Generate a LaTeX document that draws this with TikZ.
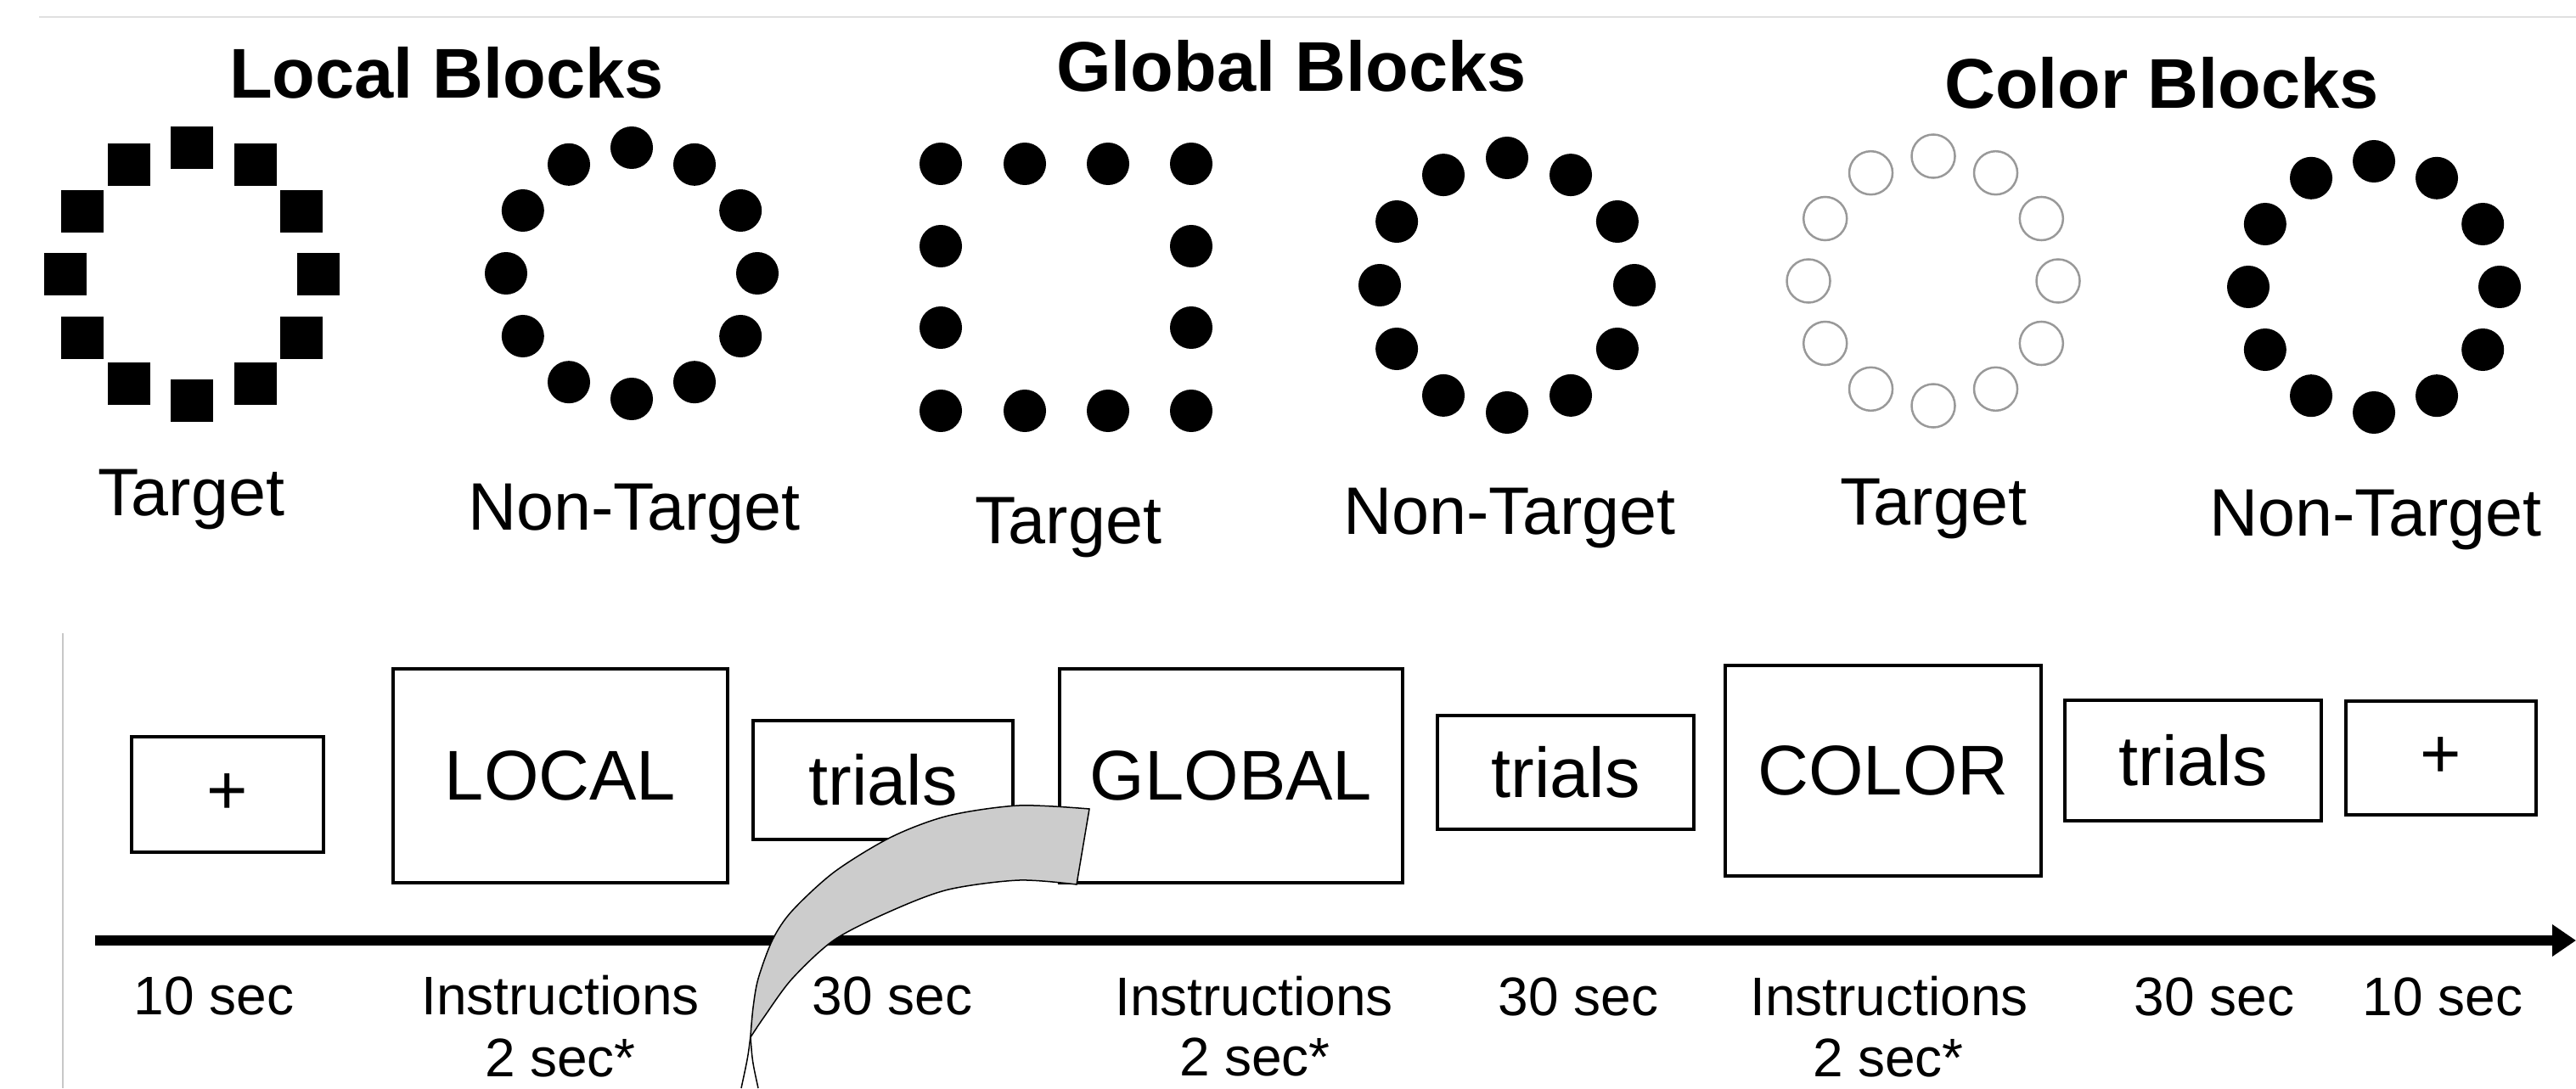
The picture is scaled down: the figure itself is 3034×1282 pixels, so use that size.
\documentclass[tikz,border=0pt]{standalone}
\usepackage{fontspec}
\setmainfont{Liberation Sans}
\usetikzlibrary{arrows.meta,positioning}

\begin{document}
\begin{tikzpicture}[x=0.01cm,y=-0.01cm,
    box/.style={draw,line width=0.04cm,inner sep=0pt,font=\fontsize{23.6}{28}\selectfont},
    ttl/.style={anchor=base,font=\fontsize{23.6}{28}\selectfont\bfseries},
    lbl/.style={anchor=base,font=\fontsize{22.5}{27}\selectfont},
    tm/.style={anchor=base,font=\fontsize{18.2}{22}\selectfont},
    blob/.style={fill=black},
    ring/.style={draw=black!40,line width=0.025cm}]

    \useasboundingbox (0,0) rectangle (3034,1282);
    \draw[black!12,line width=0.02cm] (46,20) -- (3034,20);
    \draw[black!22,line width=0.02cm] (74,746) -- (74,1282);

    % stimuli
    \node[ttl] (loctitle) at (526,116) {Local Blocks};
    \node[ttl] (globtitle) at (1521,108) {Global Blocks};
    \node[ttl] (coltitle) at (2546,128) {Color Blocks};

    \foreach \a in {0,30,...,330} {
        \fill[blob] ({226+149*cos(\a)-25},{323-149*sin(\a)-25}) rectangle ++(50,50);
        \fill[blob] ({744+148*cos(\a)},{322-148*sin(\a)}) circle (0.25cm);
        \fill[blob] ({1775+150*cos(\a)},{336-150*sin(\a)}) circle (0.25cm);
        \draw[ring] ({2277+147*cos(\a)},{331-147*sin(\a)}) circle (0.255cm);
        \fill[blob] ({2796+148*cos(\a)},{338-148*sin(\a)}) circle (0.25cm);
    }
    \foreach \x in {1108,1207,1305,1403} {
        \fill[blob] (\x,193) circle (0.25cm);
        \fill[blob] (\x,484) circle (0.25cm);
    }
    \foreach \y in {290,386} {
        \fill[blob] (1108,\y) circle (0.25cm);
        \fill[blob] (1403,\y) circle (0.25cm);
    }

    \node[lbl] (loct) at (225,607) {Target};
    \node[lbl] (locn) at (747,624) {Non-Target};
    \node[lbl] (globt) at (1258,640) {Target};
    \node[lbl] (globn) at (1778,629) {Non-Target};
    \node[lbl] (colt) at (2277,618) {Target};
    \node[lbl] (coln) at (2798,631) {Non-Target};

    % block sequence
    \node[box,minimum width=2.25cm,minimum height=1.36cm] (fix1) at (268,936) {+};
    \node[box,minimum width=3.93cm,minimum height=2.52cm] (local) at (660,914) {LOCAL};
    \node[box,minimum width=3.05cm,minimum height=1.40cm] (trials1) at (1040,919) {trials};
    \node[box,minimum width=4.03cm,minimum height=2.52cm] (global) at (1450,914) {GLOBAL};
    \node[box,minimum width=3.01cm,minimum height=1.34cm] (trials2) at (1844,910) {trials};
    \node[box,minimum width=3.72cm,minimum height=2.48cm] (color) at (2218,908) {COLOR};
    \node[box,minimum width=3.02cm,minimum height=1.42cm] (trials3) at (2583,896) {trials};
    \node[box,minimum width=2.24cm,minimum height=1.34cm] (fix2) at (2875,893) {+};

    \coordinate (t0) at (112,1108);
    \coordinate (t1) at (3034,1108);
    \draw[line width=0.12cm,-{Triangle[length=0.28cm,width=0.36cm]}] (t0) -- (t1);

    \node[tm] (d1) at (252,1195) {10 sec};
    \node[tm] (d2) at (660,1195) {Instructions};
    \node[tm] (d2b) at (660,1268) {2 sec*};
    \node[tm] (d3) at (1051,1195) {30 sec};
    \node[tm] (d4) at (1477,1196) {Instructions};
    \node[tm] (d4b) at (1478,1267) {2 sec*};
    \node[tm] (d5) at (1859,1196) {30 sec};
    \node[tm] (d6) at (2225,1196) {Instructions};
    \node[tm] (d6b) at (2224,1268) {2 sec*};
    \node[tm] (d7) at (2608,1196) {30 sec};
    \node[tm] (d8) at (2877,1196) {10 sec};

    % curved band
    \draw[fill=black!20,line width=0.015cm]
        plot[smooth] coordinates {(1283,953) (1200,949) (1117,961) (1050,986) (983,1027)
            (933,1073) (910,1107) (893,1153) (887,1187) (884,1220)}
        -- plot[smooth] coordinates {(884,1222) (900,1198) (933,1153) (983,1107)
            (1050,1073) (1117,1048) (1200,1037) (1268,1042)}
        -- cycle;
    \draw[line width=0.015cm] (884,1220) .. controls (881,1245) .. (873,1282);
    \draw[line width=0.015cm] (884,1222) .. controls (886,1250) .. (893,1282);
\end{tikzpicture}
\end{document}
